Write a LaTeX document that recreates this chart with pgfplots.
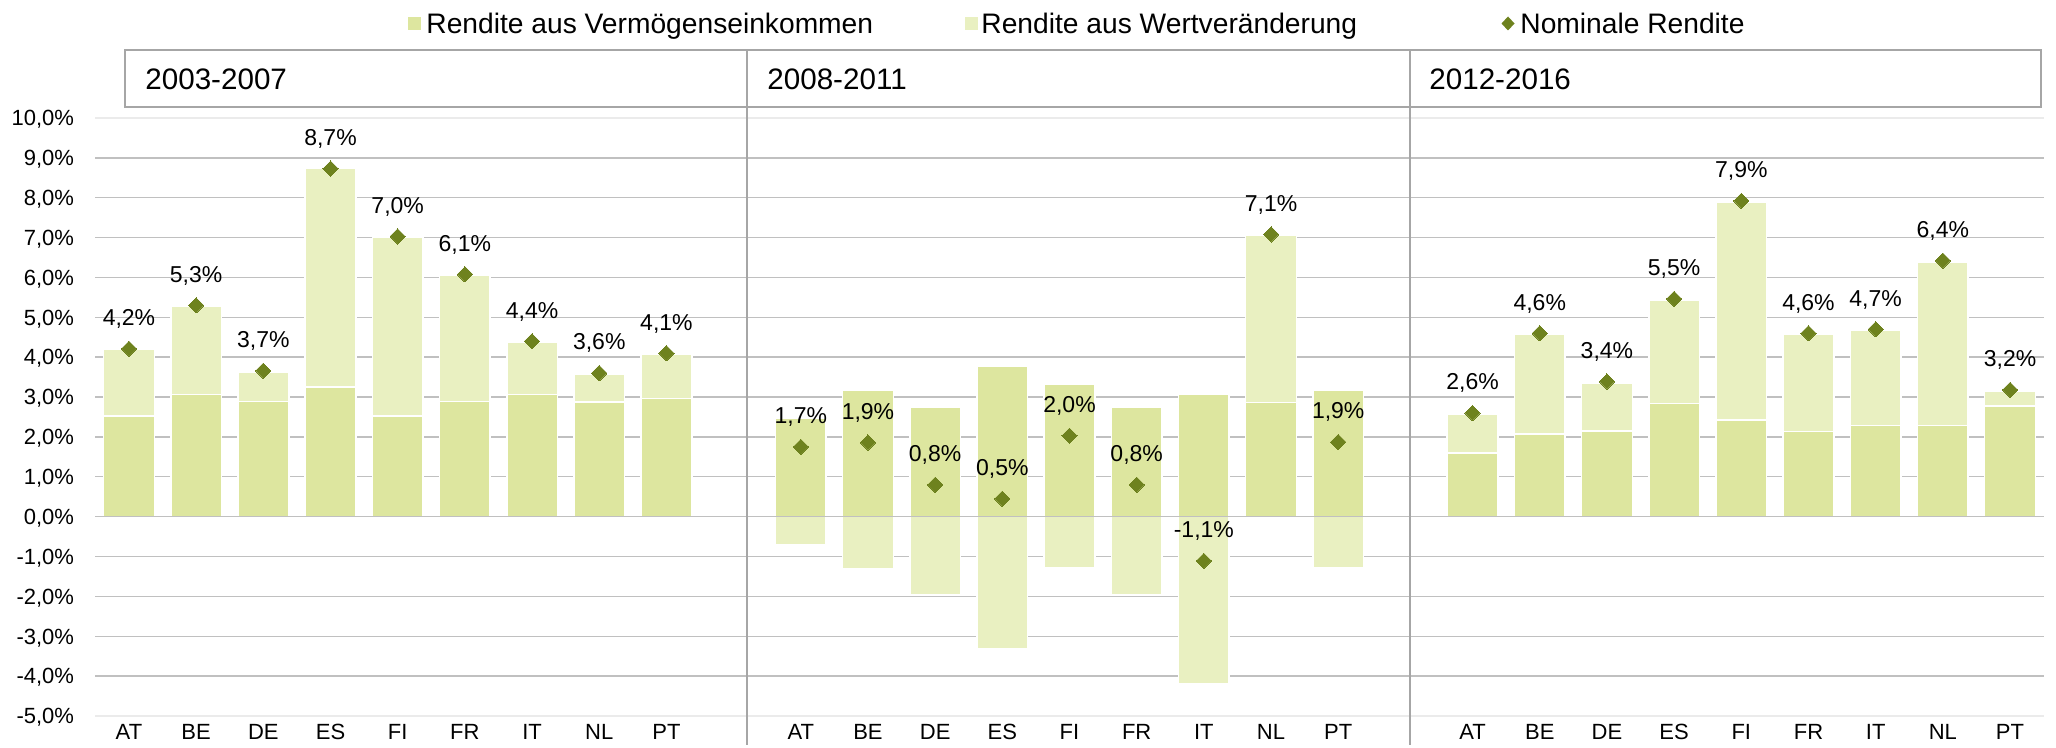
\documentclass[border=0pt]{standalone}
\usepackage{pgfplots}
\pgfplotsset{compat=1.18}
\usepackage{pgfplotstable}
\usepackage{fontspec}
\setmainfont{Liberation Sans}
\definecolor{incc}{HTML}{DDE69F}
\definecolor{valc}{HTML}{E9F0C1}
\definecolor{diamc}{HTML}{6E821E}
\definecolor{gridc}{HTML}{C0C0C0}
\definecolor{faintc}{HTML}{EBEBEB}
\definecolor{framec}{HTML}{A6A6A6}

\pgfplotstableread{
x inc val nom lab
0 2.52 1.68 4.21 4,2
1 3.06 2.22 5.30 5,3
2 2.89 0.74 3.66 3,7
3 3.25 5.48 8.73 8,7
4 2.52 4.50 7.03 7,0
5 2.89 3.17 6.08 6,1
6 3.06 1.32 4.40 4,4
7 2.87 0.71 3.60 3,6
8 2.96 1.11 4.10 4,1
10 2.48 -0.70 1.75 1,7
11 3.16 -1.30 1.86 1,9
12 2.75 -1.96 0.80 0,8
13 3.77 -3.32 0.45 0,5
14 3.32 -1.29 2.03 2,0
15 2.75 -1.96 0.80 0,8
16 3.08 -4.19 -1.11 -1,1
17 2.86 4.19 7.08 7,1
18 3.16 -1.29 1.87 1,9
20 1.59 0.98 2.60 2,6
21 2.07 2.50 4.60 4,6
22 2.15 1.21 3.39 3,4
23 2.84 2.58 5.46 5,5
24 2.43 5.46 7.92 7,9
25 2.14 2.43 4.60 4,6
26 2.29 2.38 4.70 4,7
27 2.29 4.09 6.42 6,4
28 2.78 0.36 3.18 3,2
}\data

\begin{document}
\begin{tikzpicture}
\begin{scope}[shift={(-47.7pt,358pt)}, x=0.5pt, y=-0.5pt]
\useasboundingbox (0,0) rectangle (2056,748);
\end{scope}
\begin{axis}[
  at={(0,0)}, anchor=south west, scale only axis,
  width=974.1pt, height=299pt,
  xmin=-0.5, xmax=28.5, ymin=-5, ymax=10,
  axis line style={draw=none},
  major tick length=0pt, minor tick length=0pt,
  xtick={0,1,2,3,4,5,6,7,8,10,11,12,13,14,15,16,17,18,20,21,22,23,24,25,26,27,28},
  xticklabels={AT,BE,DE,ES,FI,FR,IT,NL,PT,AT,BE,DE,ES,FI,FR,IT,NL,PT,AT,BE,DE,ES,FI,FR,IT,NL,PT},
  ytick={-5,-4,-3,-2,-1,0,1,2,3,4,5,6,7,8,9,10},
  yticklabels={{-5,0\%},{-4,0\%},{-3,0\%},{-2,0\%},{-1,0\%},{0,0\%},{1,0\%},{2,0\%},{3,0\%},{4,0\%},{5,0\%},{6,0\%},{7,0\%},{8,0\%},{9,0\%},{10,0\%}},
  extra y ticks={-4,-3,-2,-1,0,1,2,3,4,5,6,7,8,9},
  extra y tick labels={},
  extra y tick style={grid=major, major grid style={draw=gridc, line width=0.7pt}},
  tick label style={font=\fontsize{11}{13}\selectfont, text=black},
  yticklabel style={anchor=base east, inner sep=0pt, xshift=-10.5pt, yshift=-3.9pt},
  xticklabel style={anchor=base, inner sep=0pt, yshift=-12pt},
  clip=false,
]
\draw[faintc, line width=0.7pt] (axis cs:-0.5,10) -- (axis cs:28.5,10);
\draw[faintc, line width=0.7pt] (axis cs:-0.5,-5) -- (axis cs:28.5,-5);
\addplot[ybar, bar width=0.755, bar shift=0pt, fill=valc, draw=white, line width=0.8pt]
  table[x=x, y expr={\thisrow{val}<0 ? \thisrow{val} : \thisrow{inc}+\thisrow{val}}]{\data};
\addplot[ybar, bar width=0.755, bar shift=0pt, fill=incc, draw=white, line width=0.8pt]
  table[x=x, y=inc]{\data};
\draw[gridc, line width=0.7pt] (axis cs:-0.5,0) -- (axis cs:28.5,0);
\addplot[only marks, mark=square*, mark size=2.7pt,
  mark options={rotate=45, fill=diamc, draw=diamc, line width=0pt},
  point meta=explicit symbolic,
  nodes near coords={\pgfplotspointmeta\%},
  every node near coord/.style={anchor=base, inner sep=0pt, yshift=11.6pt, font=\fontsize{11.5}{13}\selectfont, text=black}]
  table[x=x, y=nom, meta=lab]{\data};
\end{axis}
\begin{scope}[shift={(-47.7pt,358pt)}, x=0.5pt, y=-0.5pt]
  \draw[framec, line width=1pt] (125,50) rectangle (2041,107);
  \draw[framec, line width=1pt] (747,50) -- (747,745);
  \draw[framec, line width=1pt] (1410,50) -- (1410,745);
  \node[anchor=base west, inner sep=0pt, font=\fontsize{14.8}{17}\selectfont] at (145,89.5) {2003-2007};
  \node[anchor=base west, inner sep=0pt, font=\fontsize{14.8}{17}\selectfont] at (767,89.5) {2008-2011};
  \node[anchor=base west, inner sep=0pt, font=\fontsize{14.8}{17}\selectfont] at (1429,89.5) {2012-2016};
  % legend
  \fill[incc] (407.5,17) rectangle (420.5,30);
  \node[anchor=base west, inner sep=0pt, font=\fontsize{14.1}{16}\selectfont] at (426,33.6) {Rendite aus Vermögenseinkommen};
  \fill[valc] (964.5,17) rectangle (977.5,30);
  \node[anchor=base west, inner sep=0pt, font=\fontsize{14.1}{16}\selectfont] at (981,33.6) {Rendite aus Wertveränderung};
  \fill[diamc] (1508,16.5) -- (1514.5,23.5) -- (1508,30.5) -- (1501.5,23.5) -- cycle;
  \node[anchor=base west, inner sep=0pt, font=\fontsize{14.1}{16}\selectfont] at (1520,33.6) {Nominale Rendite};
\end{scope}
\end{tikzpicture}
\end{document}
